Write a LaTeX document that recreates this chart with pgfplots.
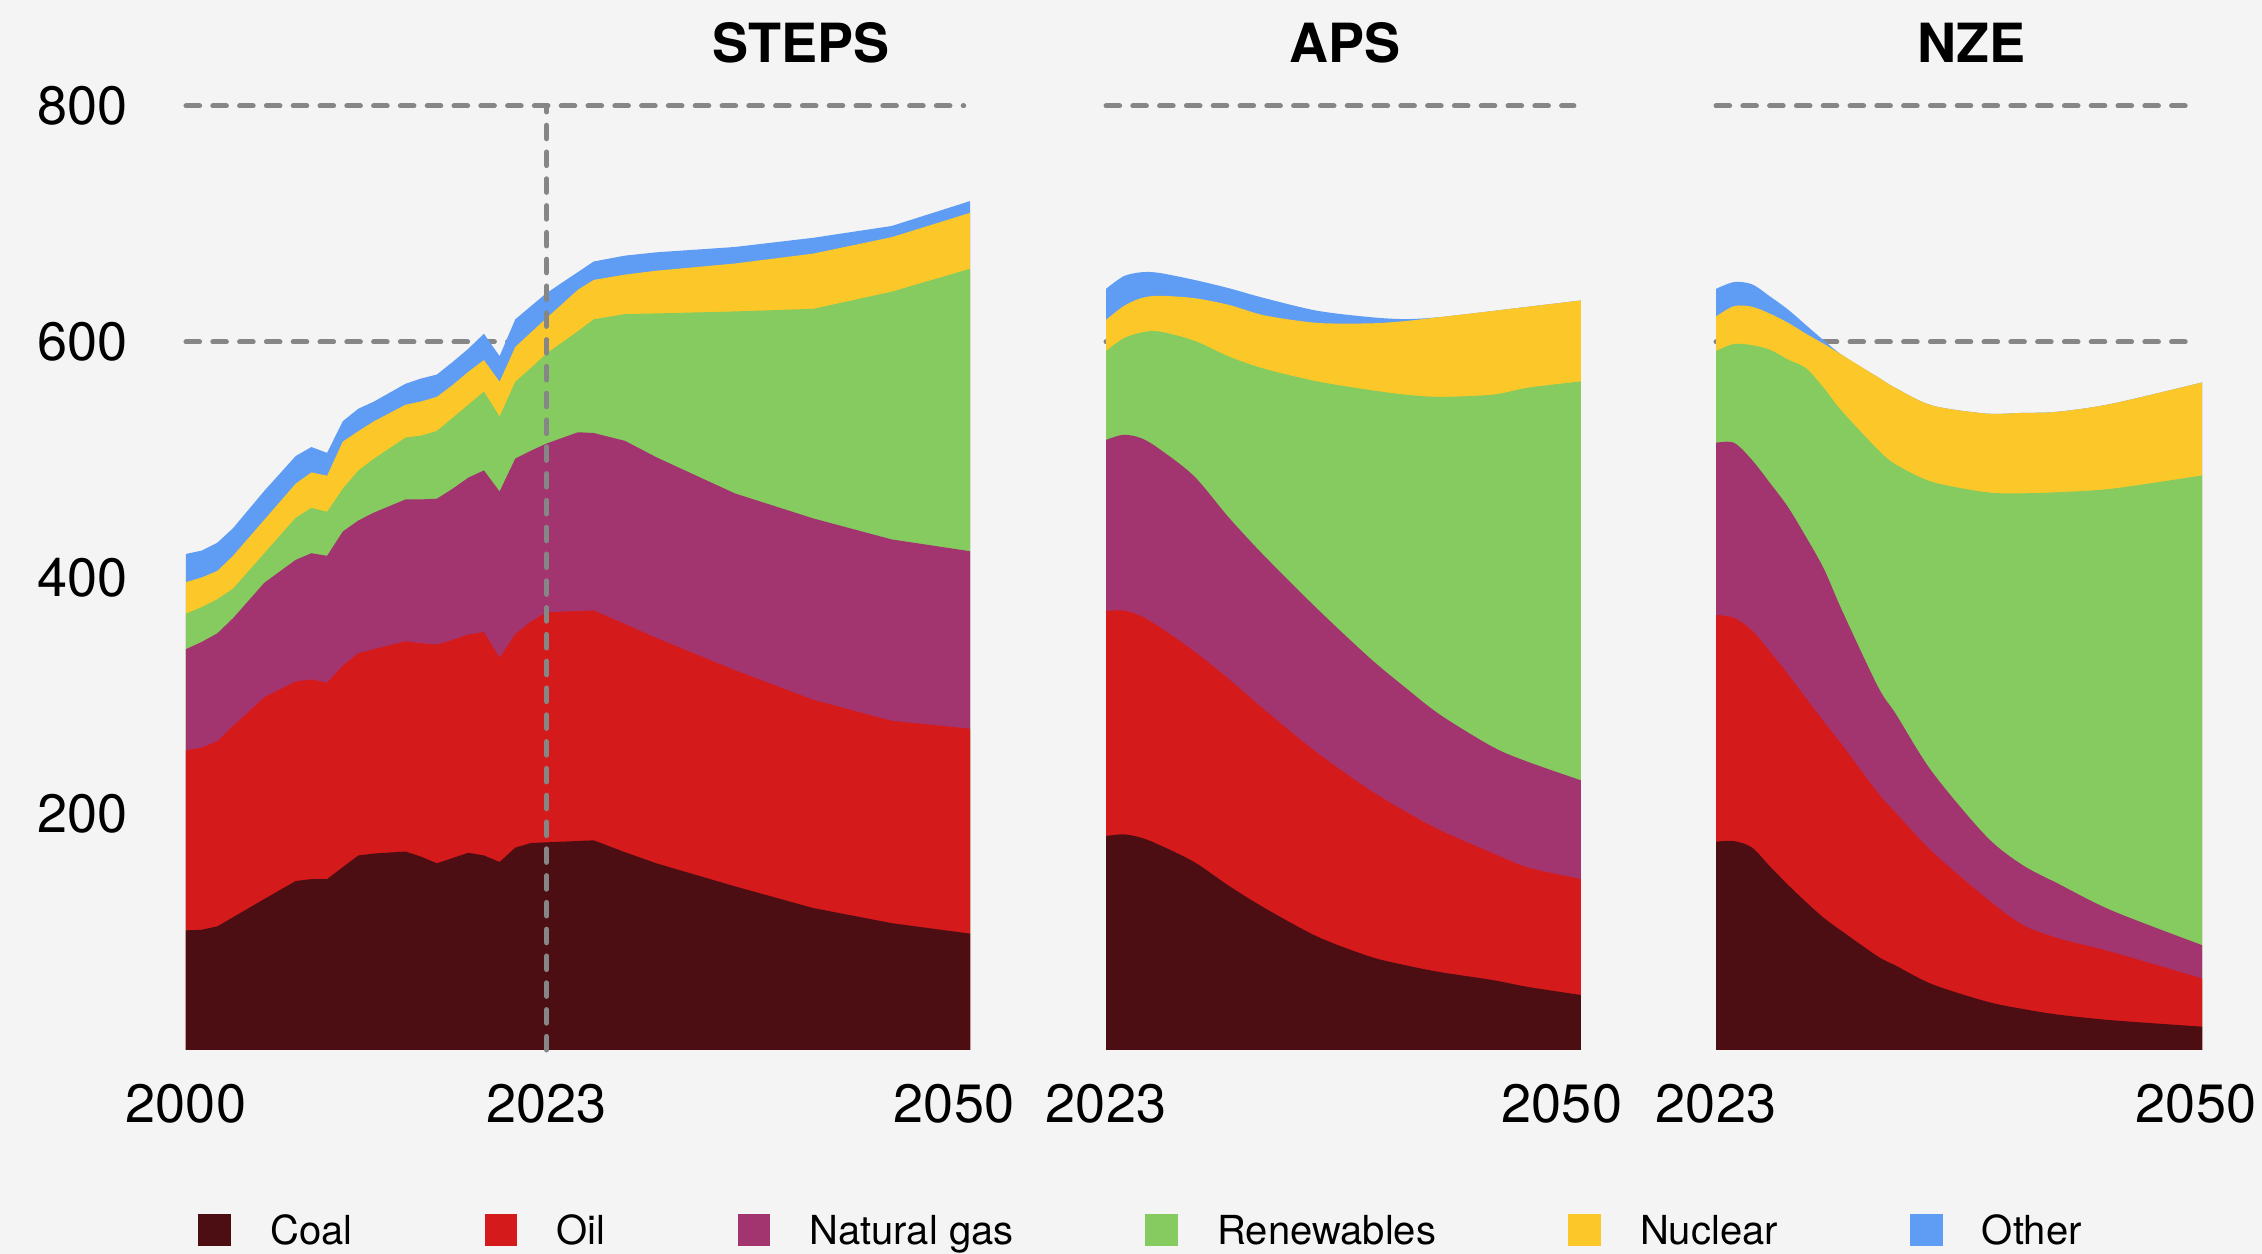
\documentclass[border=0pt]{standalone}
\usepackage{pgfplots}
\pgfplotsset{compat=1.18}
\usepackage{pgfplotstable}
\usepackage{fontspec}
\setmainfont{TeX Gyre Heros}

\definecolor{bg}{HTML}{F4F4F4}
\definecolor{coal}{HTML}{4D0E13}
\definecolor{oil}{HTML}{D51A1B}
\definecolor{gas}{HTML}{A23570}
\definecolor{ren}{HTML}{85CB60}
\definecolor{nuc}{HTML}{FCC829}
\definecolor{oth}{HTML}{5F9CF4}
\definecolor{refgray}{HTML}{868686}

% cumulative tops of each layer (coal, +oil, +gas, +renewables, +nuclear, +other)
\pgfplotstableread{
year coal  oil   gas   ren   nuc   oth
2000 101.4 253.9 339.7 369.8 396.5 420.4
2001 101.9 256.2 345.8 375.3 400.4 423.2
2002 104.8 261.7 353.1 382.0 406.0 429.9
2003 112.5 274.6 365.9 391.0 418.8 442.2
2005 128.0 299.0 396.0 421.0 449.4 473.9
2007 143.2 312.4 415.4 451.1 480.0 503.4
2008 144.8 314.0 421.0 459.4 489.5 511.0
2009 144.8 311.3 418.8 456.1 486.7 506.0
2010 155.0 325.8 439.4 475.6 515.6 532.9
2011 164.9 336.4 448.8 491.2 524.5 543.5
2012 166.5 339.7 455.5 501.2 532.9 549.6
2014 168.2 346.4 466.6 519.0 546.8 564.6
2015 163.8 344.7 466.6 520.7 549.6 569.1
2016 158.2 343.6 467.2 524.6 553.5 572.4
2017 162.6 347.5 475.6 535.7 563.5 583.0
2018 167.1 352.0 485.0 546.8 574.7 594.2
2019 164.9 354.2 491.2 558.0 584.7 607.0
2020 159.3 332.5 473.3 536.8 566.3 588.0
2021 171.5 352.5 501.2 566.3 595.8 619.2
2022 175.4 363.1 507.9 578.0 608.1 630.4
2023 176.0 370.9 514.0 590.3 620.3 641.5
2025 177.1 372.0 523.5 609.2 644.3 659.3
2026 177.7 372.5 522.9 619.2 652.6 668.2
2028 167.6 360.9 516.2 623.7 657.1 673.2
2030 158.2 349.2 502.3 624.2 660.4 676.0
2035 138.7 321.9 471.7 625.9 666.5 680.5
2040 120.3 296.8 450.5 628.1 674.9 688.3
2045 107.5 279.0 432.7 642.6 688.8 698.3
2050 98.6  272.3 422.7 662.0 709.4 719.4
}\steps

\pgfplotstableread{
year coal  oil   gas   ren   nuc   oth
2023 181.3 372.0 517.0 592.4 618.7 645.0
2024 182.8 372.5 521.4 603.1 630.4 655.7
2025 179.9 367.7 518.5 608.0 637.2 659.1
2026 174.0 358.9 509.7 609.0 639.1 658.6
2028 159.4 338.0 486.4 601.2 637.2 652.7
2030 139.0 314.2 450.9 587.6 631.4 645.5
2032 120.5 288.4 418.7 577.3 622.6 637.2
2035 96.2  251.9 374.0 566.6 616.2 626.5
2038 79.2  220.3 332.1 559.3 615.8 621.1
2040 71.9  202.3 307.3 555.4 617.7 619.4
2042 66.0  186.2 284.0 553.5 621.1 621.1
2045 59.2  166.7 256.7 555.4 626.3 626.3
2047 53.4  154.6 244.1 561.3 629.9 629.9
2050 46.6  144.9 228.5 566.6 635.2 635.2
}\aps

\pgfplotstableread{
year coal  oil   gas   ren   nuc   oth
2023 176.5 368.6 514.6 592.4 621.6 645.0
2024 177.0 366.2 514.6 598.3 630.4 650.8
2025 171.6 355.5 500.0 597.3 629.9 648.9
2026 155.5 337.5 480.5 593.4 624.0 638.6
2027 140.0 318.5 460.1 585.1 616.3 627.5
2028 125.4 298.1 434.8 577.8 607.0 614.3
2029 111.8 278.1 407.6 560.8 598.3 601.2
2030 100.6 258.7 372.5 541.3 589.0 589.0
2032 79.2  217.8 307.8 508.7 570.1 570.1
2033 71.4  200.8 284.5 496.1 560.8 560.8
2035 55.8  168.2 235.8 481.5 546.2 546.2
2038 41.2  128.8 181.3 472.7 539.4 539.4
2040 34.9  106.4 157.0 471.8 539.9 539.9
2042 30.0  94.7  141.0 472.7 540.9 540.9
2045 25.2  83.0  118.1 475.7 547.7 547.7
2050 19.8  60.7  88.9  486.9 565.7 565.7
}\nze

\pgfplotsset{
  panel/.style={
    anchor=south west, scale only axis, height=236pt,
    ymin=0, ymax=800, clip=false,
    axis line style={draw=none}, tick style={draw=none}, major tick length=0pt,
    ytick={200,400,600,800},
    ticklabel style={font=\fontsize{13.5}{16}\selectfont},
    /pgf/number format/assume math mode=true,
    /pgf/number format/1000 sep={},
    xticklabel style={yshift=-5pt},
    yticklabel style={xshift=-11pt},
  },
  band/.style={draw=none, fill=#1, forget plot},
}
\tikzset{
  refline/.style={refgray, line width=1.25pt, line cap=round, dash pattern=on 3.4pt off 3.3pt},
  ptitle/.style={font=\bfseries\fontsize{13.5}{16}\selectfont, anchor=base, yshift=10.75pt},
}

\begin{document}
\begin{tikzpicture}
\fill[bg] (0,0) rectangle (565.5pt,313.5pt);
\useasboundingbox (0,0) rectangle (565.5pt,313.5pt);

% STEPS
\begin{axis}[panel, at={(46.5pt,51pt)}, width=196pt,
  xmin=2000, xmax=2050, xtick={2000,2023},
  extra x ticks={2050}, extra x tick style={xticklabel style={xshift=-4pt}},
  legend columns=6,
  legend image code/.code={\fill[#1] (0pt,-4pt) rectangle (8.2pt,4pt);},
  legend style={at={(0.0148,-0.1907)}, anchor=west, draw=none, fill=none,
    inner xsep=0pt, inner ysep=0pt,
    font=\fontsize{10}{12}\selectfont,
    nodes={inner sep=0pt, text height=7.2pt, text depth=0pt},
    /tikz/every odd column/.style={column sep=9.8pt},
    /tikz/every even column/.style={column sep=33pt}},
]
\draw[refline] (axis cs:2000,600) -- (axis cs:2049.6,600);
\draw[refline] (axis cs:2000,800) -- (axis cs:2049.6,800);
\addplot[band=oth] table[x=year,y=oth]{\steps} \closedcycle;
\addplot[band=nuc] table[x=year,y=nuc]{\steps} \closedcycle;
\addplot[band=ren] table[x=year,y=ren]{\steps} \closedcycle;
\addplot[band=gas] table[x=year,y=gas]{\steps} \closedcycle;
\addplot[band=oil] table[x=year,y=oil]{\steps} \closedcycle;
\addplot[band=coal] table[x=year,y=coal]{\steps} \closedcycle;
\draw[refline] (axis cs:2023,0) -- (axis cs:2023,800);
\node[ptitle] at (axis cs:2039.2,800) {STEPS};
\addlegendimage{fill=coal, draw=none}\addlegendentry{Coal}
\addlegendimage{fill=oil, draw=none}\addlegendentry{Oil}
\addlegendimage{fill=gas, draw=none}\addlegendentry{Natural gas}
\addlegendimage{fill=ren, draw=none}\addlegendentry{Renewables}
\addlegendimage{fill=nuc, draw=none}\addlegendentry{Nuclear}
\addlegendimage{fill=oth, draw=none}\addlegendentry{Other}
\end{axis}

% APS
\begin{axis}[panel, at={(276.5pt,51pt)}, width=118.75pt,
  xmin=2023, xmax=2050, xtick={2023}, yticklabels={},
  extra x ticks={2050}, extra x tick style={xticklabel style={xshift=-4.75pt}},
  every axis plot/.append style={smooth, tension=0.5},
]
\draw[refline] (axis cs:2023,600) -- (axis cs:2049.6,600);
\draw[refline] (axis cs:2023,800) -- (axis cs:2049.6,800);
\addplot[band=oth] table[x=year,y=oth]{\aps} \closedcycle;
\addplot[band=nuc] table[x=year,y=nuc]{\aps} \closedcycle;
\addplot[band=ren] table[x=year,y=ren]{\aps} \closedcycle;
\addplot[band=gas] table[x=year,y=gas]{\aps} \closedcycle;
\addplot[band=oil] table[x=year,y=oil]{\aps} \closedcycle;
\addplot[band=coal] table[x=year,y=coal]{\aps} \closedcycle;
\node[ptitle] at (axis cs:2036.6,800) {APS};
\end{axis}

% NZE
\begin{axis}[panel, at={(429pt,51pt)}, width=121.5pt,
  xmin=2023, xmax=2050, xtick={2023}, yticklabels={},
  extra x ticks={2050}, extra x tick style={xticklabel style={xshift=-1.5pt}},
  every axis plot/.append style={smooth, tension=0.5},
]
\draw[refline] (axis cs:2023,600) -- (axis cs:2049.6,600);
\draw[refline] (axis cs:2023,800) -- (axis cs:2049.6,800);
\addplot[band=oth] table[x=year,y=oth]{\nze} \closedcycle;
\addplot[band=nuc] table[x=year,y=nuc]{\nze} \closedcycle;
\addplot[band=ren] table[x=year,y=ren]{\nze} \closedcycle;
\addplot[band=gas] table[x=year,y=gas]{\nze} \closedcycle;
\addplot[band=oil] table[x=year,y=oil]{\nze} \closedcycle;
\addplot[band=coal] table[x=year,y=coal]{\nze} \closedcycle;
\node[ptitle] at (axis cs:2037.2,800) {NZE};
\end{axis}
\end{tikzpicture}
\end{document}
